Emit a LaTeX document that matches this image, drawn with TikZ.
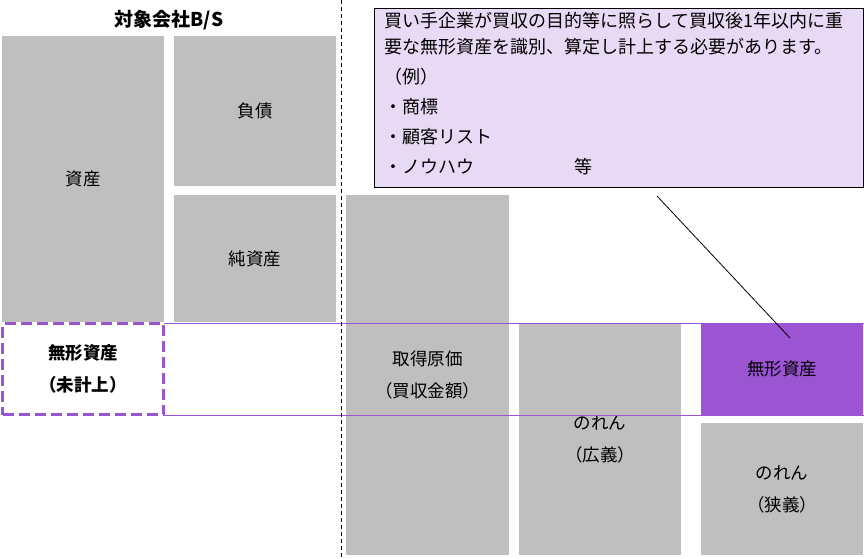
\documentclass[tikz,border=0pt]{standalone}
\usepackage{fontspec}
\setmainfont{Noto Sans CJK JP}
\definecolor{boxgray}{HTML}{BFBFBF}
\definecolor{vio}{HTML}{9B55D3}
\definecolor{lav}{HTML}{E8DAF4}
\begin{document}
\begin{tikzpicture}[x=1pt,y=-1pt,
  base/.style={inner sep=0pt,outer sep=0pt,anchor=north west,align=center,
    font=\fontsize{17.5}{32}\selectfont},
  gbox/.style={base,fill=boxgray},
  vbox/.style={base,fill=vio},
  dbox/.style={base,draw=vio,fill=white,line width=3.5pt,dash pattern=on 11pt off 5pt,
    font=\fontsize{17.5}{32}\selectfont\bfseries},
  cbox/.style={inner sep=0pt,outer sep=0pt,anchor=north west,draw=black,fill=lav,line width=1pt},
  hline/.style={draw=vio,line width=0.8pt},
  vline/.style={draw=black,line width=0.8pt,dash pattern=on 4pt off 3pt},
  link/.style={draw=black,line width=0.8pt}]
\useasboundingbox (0,0) rectangle (864,558);
% left B/S
\node[gbox,minimum width=162pt,minimum height=286pt] (asset) at (2,36) {資産};
\node[gbox,minimum width=162pt,minimum height=150pt] (liab) at (174,36) {負債};
\node[gbox,minimum width=162pt,minimum height=127pt] (equity) at (174,195) {純資産};
\node[dbox,minimum width=161pt,minimum height=91pt] (intang0) at (2.5,323.5) {無形資産\\（未計上）};
% right side
\node[gbox,minimum width=163pt,minimum height=360pt] (cost) at (346,195) {取得原価\\（買収金額）};
\node[gbox,minimum width=162pt,minimum height=232pt] (gwide) at (519,323) {のれん\\（広義）};
\node[vbox,minimum width=162pt,minimum height=92pt] (intang) at (701,323) {無形資産};
\node[gbox,minimum width=162pt,minimum height=132pt] (gnarrow) at (701,423) {のれん\\（狭義）};
% title
\node[inner sep=0pt,font=\fontsize{19}{20}\selectfont\bfseries] (title) at (169,20) {対象会社B/S};
% horizontal guide lines
\coordinate (h1a) at (164,323.5);
\coordinate (h1b) at (864,323.5);
\coordinate (h2a) at (164,415);
\coordinate (h2b) at (864,415);
\draw[hline] (h1a) -- (h1b);
\draw[hline] (h2a) -- (h2b);
% vertical dashed divider
\coordinate (vtop) at (341,0);
\coordinate (vbot) at (341,558);
\draw[vline] (vtop) -- (vbot);
% callout
\node[cbox,minimum width=489pt,minimum height=178.5pt] (callout) at (374.5,8.5) {};
\node[anchor=north west,inner sep=0pt,align=left,font=\fontsize{18}{26}\selectfont] (ctext) at (384,12)
 {買い手企業が買収の目的等に照らして買収後1年以内に重\\
  要な無形資産を識別、算定し計上する必要があります。\\[4pt]
  （例）\\[4pt]
  ・商標\\[4pt]
  ・顧客リスト\\[4pt]
  ・ノウハウ\hspace*{100pt}等};
\coordinate (lstart) at (657,196);
\coordinate (lend) at (790,338);
\draw[link] (lstart) -- (lend);
\end{tikzpicture}
\end{document}
